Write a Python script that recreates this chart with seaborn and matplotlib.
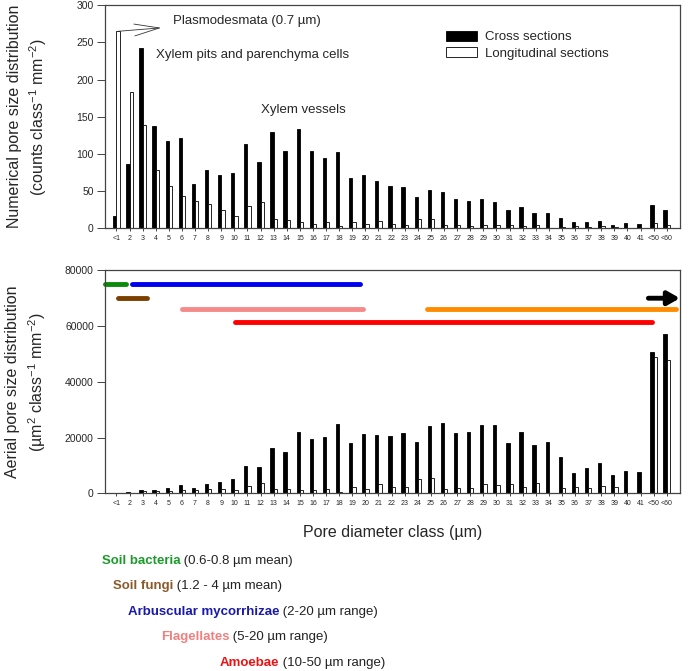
import matplotlib.pyplot as plt
from matplotlib.patches import Patch
import numpy as np
import pandas as pd
import seaborn as sns

classes = ["<1"] + [str(i) for i in range(2, 42)] + ["<50", "<60"]
sections = ["Cross sections", "Longitudinal sections"]

num_cross = [16, 87, 243, 137, 118, 121, 59, 79, 72, 74, 114, 89, 130, 104, 133,
             104, 95, 102, 67, 72, 64, 57, 55, 42, 52, 49, 39, 37, 39, 36, 25, 28,
             21, 21, 14, 8, 9, 10, 5, 7, 6, 31, 24]
num_long = [265, 183, 139, 79, 57, 44, 37, 33, 25, 17, 30, 35, 13, 11, 8, 6, 8, 3,
            9, 6, 10, 6, 5, 12, 12, 4, 4, 3, 5, 4, 4, 3, 4, 0, 2, 3, 2, 3, 2, 0, 0,
            7, 4]
area_cross = [0, 300, 1300, 1300, 1800, 2900, 1800, 3500, 4200, 5300, 9950, 9350,
              16200, 14900, 22000, 19650, 20250, 24700, 18200, 21300, 21100, 20700,
              21700, 18350, 24200, 25200, 21600, 22050, 24450, 24350, 18100, 21950,
              17250, 18350, 12950, 7200, 9000, 10800, 6600, 8000, 7700, 50600, 57200]
area_long = [0, 0, 700, 800, 1000, 1300, 1300, 1550, 1450, 1300, 2650, 3700, 1700,
             1550, 1300, 1100, 1700, 500, 2300, 1550, 3350, 2150, 2150, 5150, 5500,
             1550, 1800, 1800, 3350, 3000, 3500, 2150, 3700, 0, 2050, 2400, 2050,
             2750, 2300, 250, 0, 48900, 47700]

# organism size ranges drawn over the lower panel (class index start/end, height)
org_start = [-0.9, 0.15, 1.2, 5.0, 9.05, 23.7]
org_end = [0.75, 2.3, 18.6, 18.8, 40.9, 42.7]
org_level = [75000, 70000, 75000, 66000, 61500, 66000]
org_colors = ["#0b8a0b", "#7b3f00", "#0000ee", "#f58a8a", "#ff0000", "#ff8c00"]

notes_bold = ["Soil bacteria", "Soil fungi", "Arbuscular mycorrhizae", "Flagellates", "Amoebae"]
notes_rest = [" (0.6-0.8 \u00b5m mean)", " (1.2 - 4 \u00b5m mean)", " (2-20 \u00b5m range)",
              " (5-20 \u00b5m range)", " (10-50 \u00b5m range)"]
notes_colors = ["#1c9a2a", "#8b5a2b", "#1a1aa8", "#f08080", "#ee1111"]


def long_df(cross, longi):
    return pd.DataFrame({
        "Class": classes * 2,
        "Section": [sections[0]] * len(classes) + [sections[1]] * len(classes),
        "Value": cross + longi,
    })


def style_axis(ax, yticks):
    ax.set_xlim(-0.88, 43.0)
    ax.set_yticks(yticks)
    ax.set_ylim(yticks[0], yticks[-1])
    ax.set_xlabel("")
    for s in ax.spines.values():
        s.set_visible(True)
        s.set_color("#444444")
        s.set_linewidth(0.9)
    ax.tick_params(axis="x", labelsize=5, length=2.5, width=0.7, pad=2.5, color="#444444")
    ax.tick_params(axis="y", labelsize=7.5, length=6, width=0.7, pad=2, color="#444444")


sns.set_style("ticks")
plt.rcParams["font.family"] = ["Liberation Sans", "DejaVu Sans"]
plt.rcParams["mathtext.default"] = "regular"

fig = plt.figure(figsize=(6.9, 6.71), dpi=100)
ax1 = fig.add_axes([0.152, 0.6598, 0.8333, 0.3323])
ax2 = fig.add_axes([0.152, 0.2648, 0.8333, 0.3323])
palette = {sections[0]: "black", sections[1]: "white"}

for ax, cross, longi in [(ax1, num_cross, num_long), (ax2, area_cross, area_long)]:
    sns.barplot(data=long_df(cross, longi), x="Class", y="Value", hue="Section",
                order=classes, hue_order=sections, palette=palette, width=0.5,
                gap=0, edgecolor="black", linewidth=0.6, errorbar=None,
                legend=False, ax=ax)

style_axis(ax1, np.arange(0, 301, 50))
style_axis(ax2, np.arange(0, 80001, 20000))

ax1.set_ylabel("Numerical pore size distribution\n(counts class$^{-1}$ mm$^{-2}$)",
               fontsize=11.5, va="center", linespacing=1.35)
ax2.set_ylabel("Aerial pore size distribution\n(\u00b5m$^{2}$ class$^{-1}$ mm$^{-2}$)",
               fontsize=11.5, va="center", linespacing=1.35)
ax1.yaxis.set_label_coords(-0.134, 0.5)
ax2.yaxis.set_label_coords(-0.136, 0.5)

handles = [Patch(facecolor=palette[s], edgecolor="black", linewidth=0.6) for s in sections]
ax1.legend(handles, sections, loc="upper left", bbox_to_anchor=(0.594, 0.885),
           frameon=False, fontsize=9.5, handlelength=2.35, handleheight=0.75,
           handletextpad=0.6, labelspacing=0.3, borderpad=0, borderaxespad=0)

ax1.annotate("Plasmodesmata (0.7 \u00b5m)", xy=(0.12, 265), xytext=(4.3, 279),
             fontsize=9.5, va="center",
             arrowprops=dict(arrowstyle="<-,head_length=1.9,head_width=0.45",
                             color="#333333", lw=0.6, shrinkA=6, shrinkB=0))
ax1.text(3.05, 233, "Xylem pits and parenchyma cells", fontsize=9.5, va="center")
ax1.text(11.0, 159, "Xylem vessels", fontsize=9.5, va="center")

for x0, x1, yv, c in zip(org_start, org_end, org_level, org_colors):
    ax2.plot([x0, x1], [yv, yv], color=c, lw=3.5, solid_capstyle="round", clip_on=False)
ax2.annotate("", xy=(43.0, 70000), xytext=(40.6, 70000), annotation_clip=False,
             arrowprops=dict(arrowstyle="-|>,head_length=0.7,head_width=0.4",
                             color="black", lw=3.5, capstyle="round",
                             shrinkA=0, shrinkB=0))

fig.text(0.569, 1 - 532.7 / 671, "Pore diameter class (\u00b5m)", fontsize=11.5,
         ha="center", va="center")

note_x = [101.7, 112.7, 127.7, 160.7, 219.3]
note_y = [561, 586, 611.7, 637, 663]
for bold, rest, c, nx, ny in zip(notes_bold, notes_rest, notes_colors, note_x, note_y):
    t = fig.text(nx / 690, 1 - ny / 671, bold, fontsize=9.5, fontweight="bold",
                 color=c, va="center")
    ax1.annotate(rest, xy=(1, 0.5), xycoords=t, va="center", fontsize=9.5,
                 color="#222222", annotation_clip=False)

fig.savefig("out.png", dpi=100)
